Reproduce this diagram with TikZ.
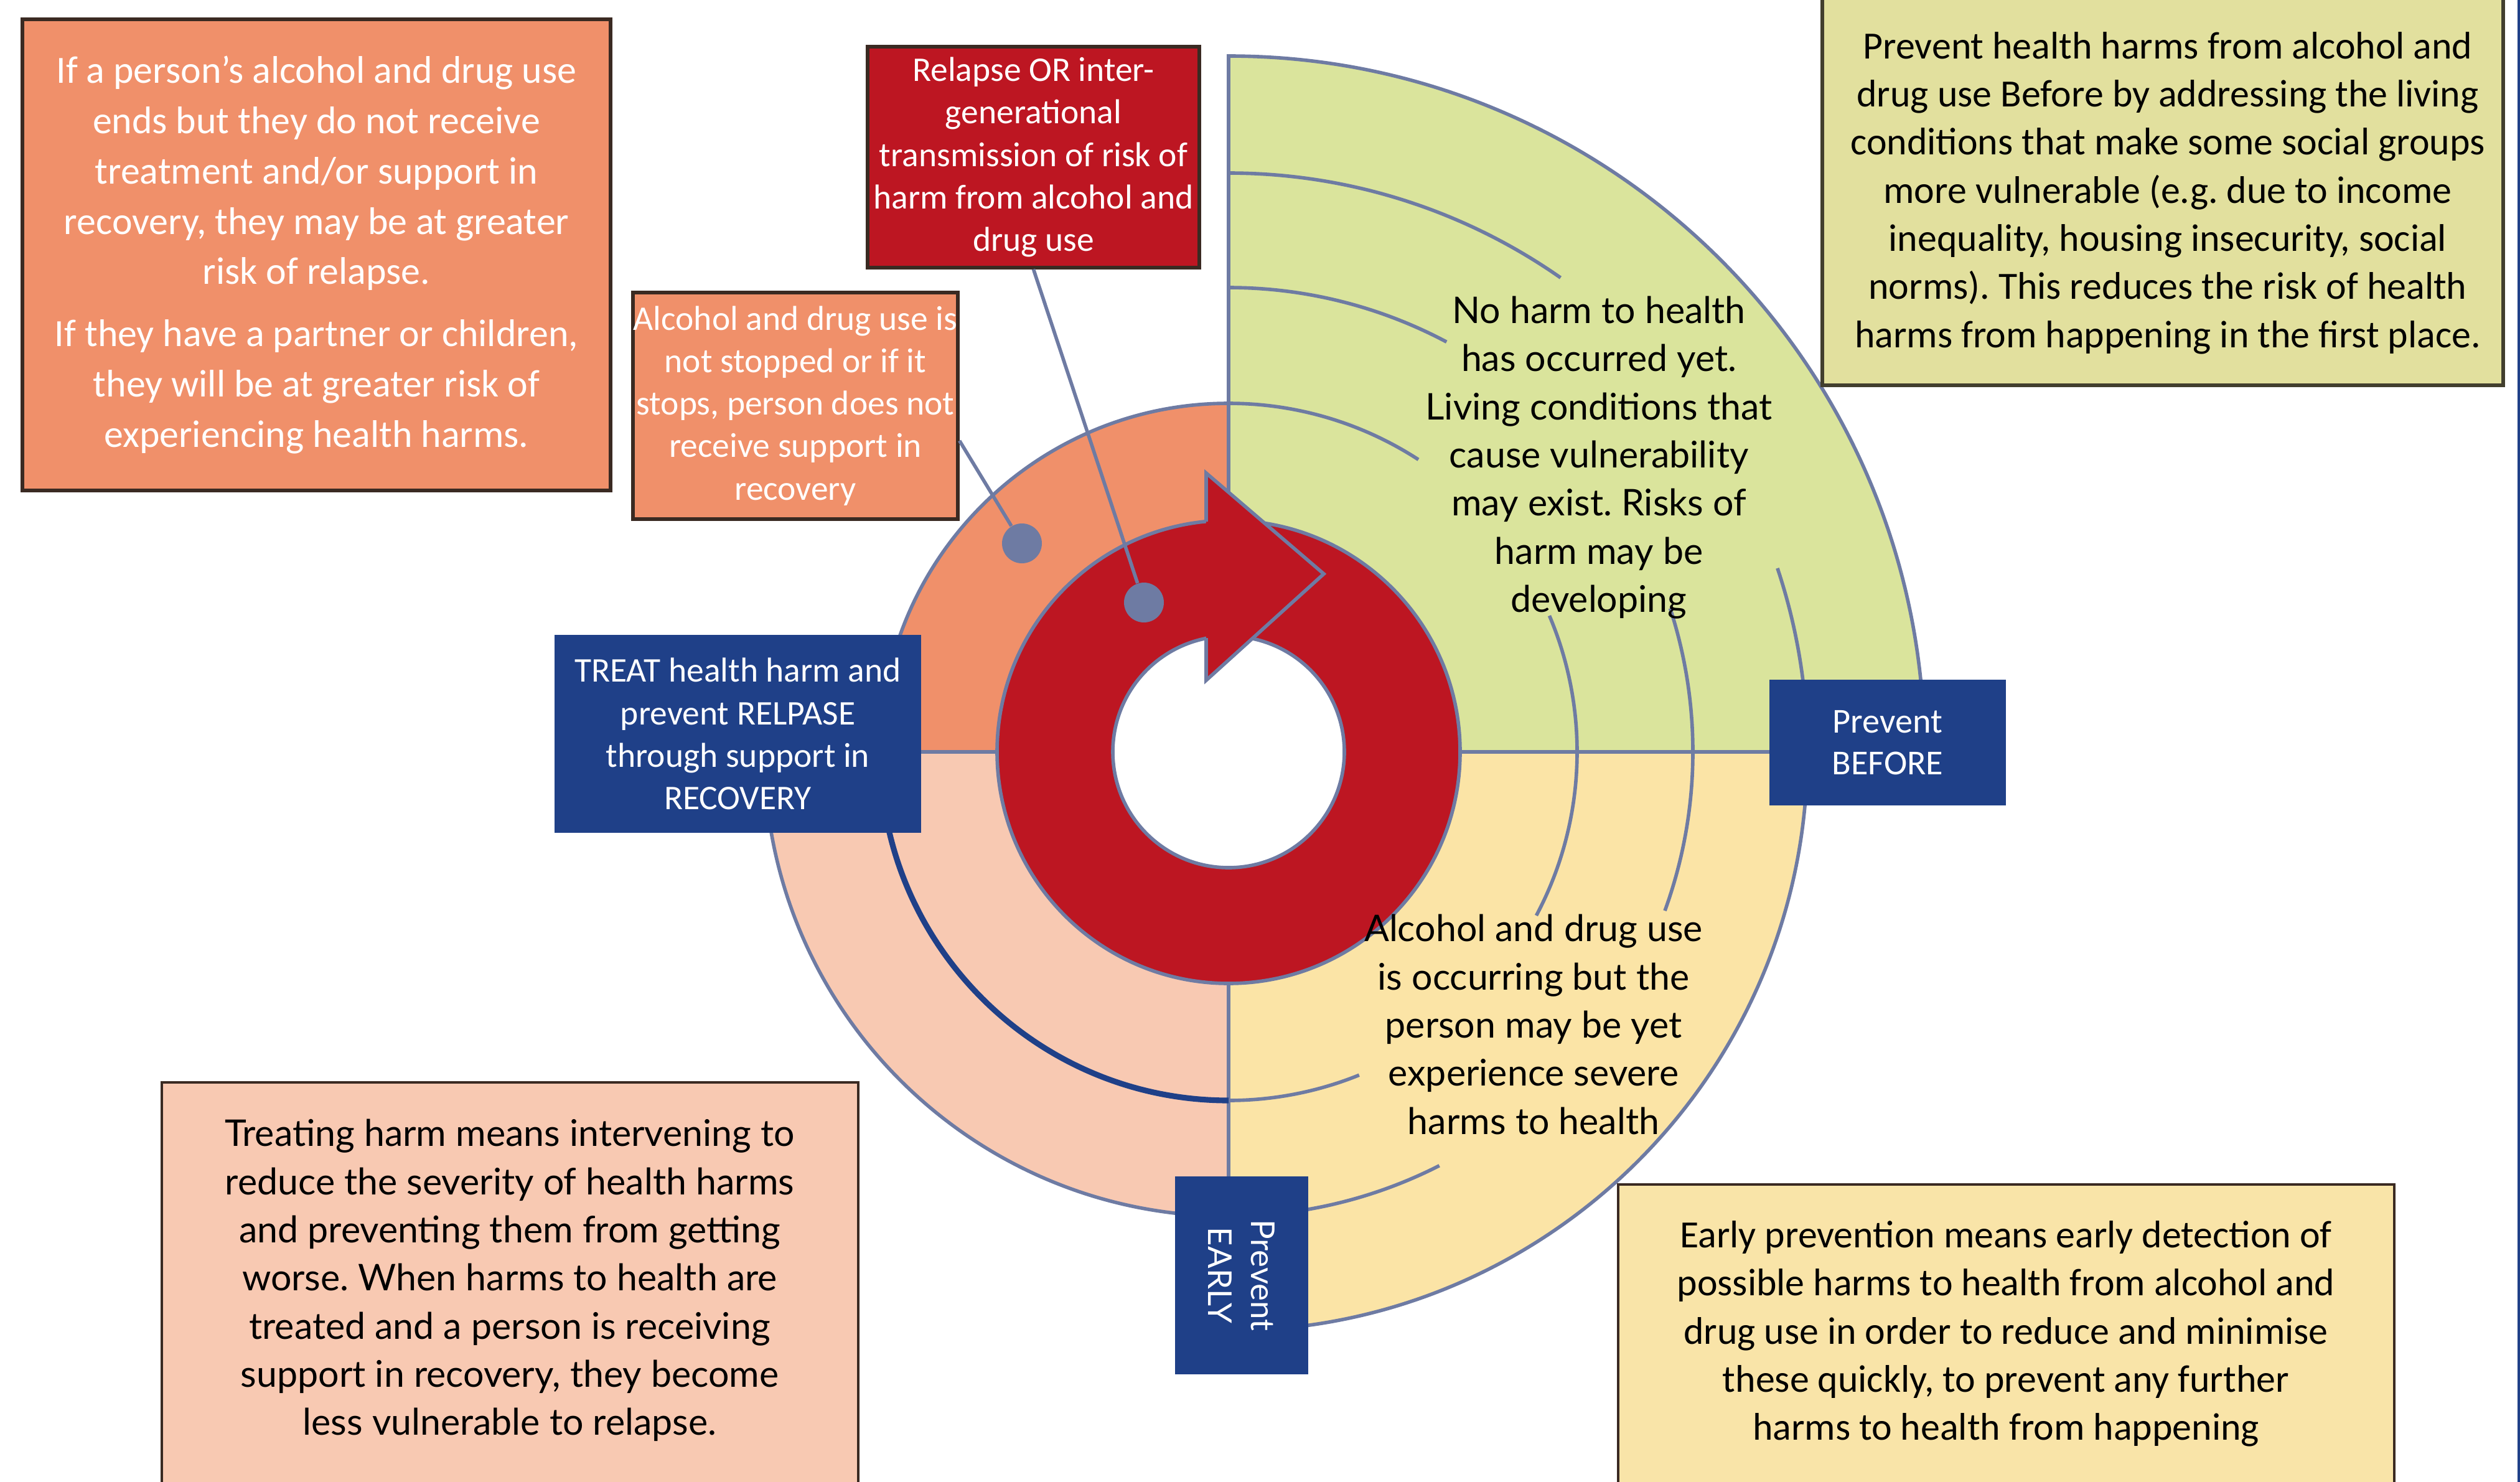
\documentclass[tikz,border=0pt]{standalone}
\usepackage{fontspec}
\setmainfont{Carlito}
\newfontfamily\latofont{Lato}
\frenchspacing
\definecolor{greenq}{HTML}{DAE49C}
\definecolor{yellowq}{HTML}{FBE4A6}
\definecolor{orangeq}{HTML}{F0906A}
\definecolor{salmonq}{HTML}{F8C9B2}
\definecolor{ringred}{HTML}{BD1622}
\definecolor{edgeblue}{HTML}{6E7BA3}
\definecolor{navy}{HTML}{1F4088}
\definecolor{khaki}{HTML}{E2E09E}
\definecolor{paleyellow}{HTML}{F9E4A8}
\definecolor{boxedge}{HTML}{3A2A22}
\tikzset{
  quad/.style={draw=edgeblue, line width=1.6pt},
  redbox/.style={fill=#1, draw=boxedge, line width=1.5pt, text=white, align=center, inner sep=0pt},
  bluebox/.style={fill=navy, text=white, align=center, inner sep=0pt},
  pointer/.style={draw=edgeblue, line width=1.6pt},
  pindot/.style={circle, fill=edgeblue, minimum size=0.64cm, inner sep=0pt},
  small/.style={font=\fontsize{15.8}{19.4}\selectfont},
  big/.style={font=\fontsize{17.6}{22}\selectfont},
  latotext/.style={font=\latofont\fontsize{16.8}{22}\selectfont, align=center}
}
\begin{document}
\begin{tikzpicture}
\useasboundingbox (0,0) rectangle (40.49,-23.81);
% the wheel
\begin{scope}[shift={(19.74,-12.08)}]
\filldraw[quad, fill=greenq] (0,0) -- (11.18,0) arc[start angle=0, end angle=90, radius=11.18] -- cycle;
\filldraw[quad, fill=yellowq] (0,0) -- (0,-9.30) arc[start angle=270, end angle=360, radius=9.30] -- cycle;
\filldraw[quad, fill=salmonq] (0,0) -- (-7.46,0) arc[start angle=180, end angle=270, radius=7.46] -- cycle;
\filldraw[quad, fill=orangeq] (0,0) -- (0,5.60) arc[start angle=90, end angle=180, radius=5.60] -- cycle;
\foreach \r/\a/\b in {9.30/90/55, 7.46/90/62, 5.60/90/57, 9.30/18.5/0, 7.46/18/-20,
                      5.60/23/-28, 5.60/270/292, 7.46/270/297}
  \draw[quad] (\a:\r) arc[start angle=\a, end angle=\b, radius=\r];
\draw[navy, line width=2.6pt] (180:5.60) arc[start angle=180, end angle=270, radius=5.60];
% red circular arrow
\fill[ringred, even odd rule] (0,0) circle[radius=3.72] (0,0) circle[radius=1.86];
\draw[quad] (0,0) circle[radius=3.72];
\filldraw[quad, fill=white] (0,0) circle[radius=1.86];
\fill[ringred] (-0.36,4.48) -- (1.53,2.86) -- (-0.36,1.15) -- cycle;
\draw[quad] (-0.36,3.70) -- (-0.36,4.48) -- (1.53,2.86) -- (-0.36,1.15) -- (-0.36,1.83);
\end{scope}

\node[latotext] (noharm) at (25.69,-7.35) {No harm to health\\has occurred yet.\\Living conditions that\\cause vulnerability\\may exist. Risks of\\harm may be\\developing};
\node[latotext] (occurring) at (24.64,-16.46) {Alcohol and drug use\\is occurring but the\\person may be yet\\experience severe\\harms to health};

% boxes round the wheel
\node[redbox=orangeq, minimum width=9.45cm, minimum height=7.57cm,
  font=\fontsize{17.6}{23}\selectfont] (ifends) at (5.085,-4.095)
  {If a person’s alcohol and drug use\\ends but they do not receive\\treatment and/or support in\\recovery, they may be at greater\\risk of relapse.\\[0.19cm]
   If they have a partner or children,\\they will be at greater risk of\\experiencing health harms.};
\node[redbox=orangeq, small, minimum width=5.22cm, minimum height=3.64cm] (notstopped) at (12.78,-6.52)
  {Alcohol and drug use is\\not stopped or if it\\stops, person does not\\receive support in\\recovery};
\node[redbox=ringred, small, minimum width=5.33cm, minimum height=3.55cm] (relapse) at (16.605,-2.525)
  {Relapse OR inter-\\generational\\transmission of risk of\\harm from alcohol and\\drug use};
\node[bluebox, small, minimum width=5.89cm, minimum height=3.18cm] (treat) at (11.855,-11.79)
  {TREAT health harm and\\prevent RELPASE\\through support in\\RECOVERY};
\node[bluebox, font=\fontsize{16}{19}\selectfont, minimum width=3.80cm, minimum height=2.02cm] (before) at (30.33,-11.93)
  {Prevent\\BEFORE};
\node[bluebox, rotate=-90, font=\latofont\fontsize{15}{19.6}\selectfont,
  minimum width=3.18cm, minimum height=2.14cm] (early) at (19.95,-20.49) {Prevent\\EARLY};

% pointers
\node[pindot] (dotA) at (16.42,-8.73) {};
\node[pindot] (dotB) at (18.38,-9.68) {};
\draw[pointer] (notstopped.-12) -- (dotA);
\draw[pointer] (relapse.south) -- (dotB);

% notes cut by the page edge
\filldraw[fill=khaki, draw=black!70!olive, line width=1.5pt] (29.28,0.3) rectangle (40.22,-6.19);
\node[big, align=center] (beforenote) at (34.83,-3.10)
  {Prevent health harms from alcohol and\\drug use Before by addressing the living\\conditions that make some social groups\\more vulnerable (e.g. due to income\\inequality, housing insecurity, social\\norms). This reduces the risk of health\\harms from happening in the first place.};
\filldraw[fill=salmonq, draw=boxedge, line width=1.2pt] (2.60,-17.39) rectangle (13.79,-24.3);
\node[latotext] (treatnote) at (8.19,-20.57)
  {Treating harm means intervening to\\reduce the severity of health harms\\and preventing them from getting\\worse. When harms to health are\\treated and a person is receiving\\support in recovery, they become\\less vulnerable to relapse.};
\filldraw[fill=paleyellow, draw=boxedge, line width=1.2pt] (26.00,-19.03) rectangle (38.47,-24.3);
\node[big, align=center] (earlynote) at (32.23,-21.43)
  {Early prevention means early detection of\\possible harms to health from alcohol and\\drug use in order to reduce and minimise\\these quickly, to prevent any further\\harms to health from happening};
\fill[navy] (40.45,0) rectangle (40.49,-23.81);
\end{tikzpicture}
\end{document}
